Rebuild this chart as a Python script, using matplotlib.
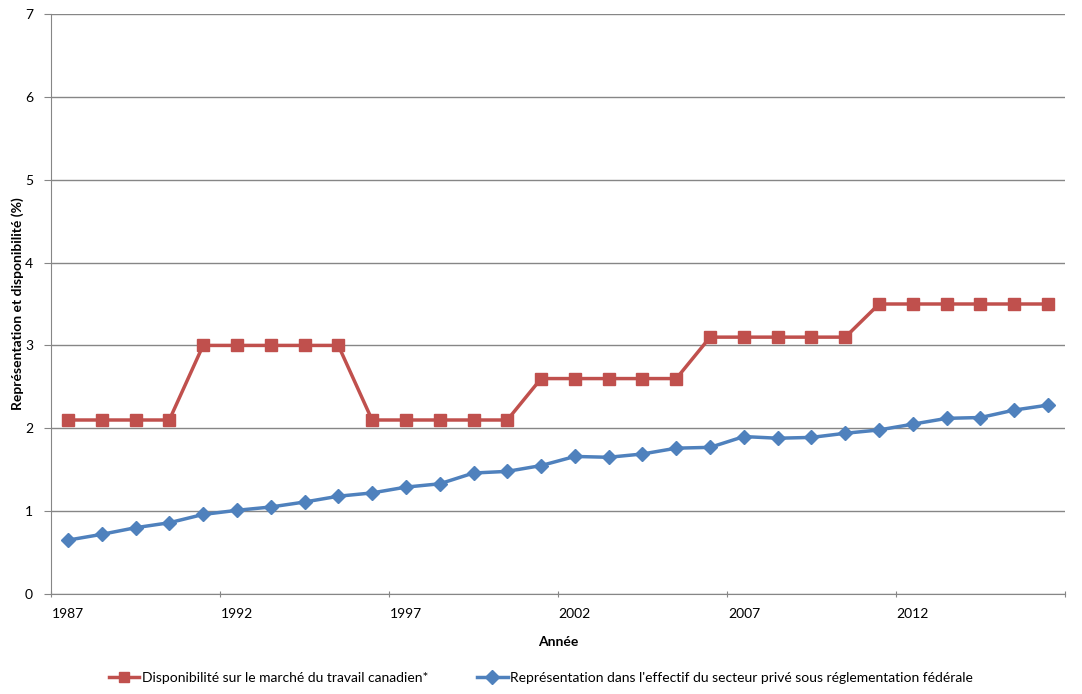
import matplotlib
matplotlib.use("Agg")
import matplotlib.pyplot as plt
import numpy as np

years = list(range(1987, 2017))
disponibilite = [2.1, 2.1, 2.1, 2.1, 3.0, 3.0, 3.0, 3.0, 3.0, 2.1,
                 2.1, 2.1, 2.1, 2.1, 2.6, 2.6, 2.6, 2.6, 2.6, 3.1,
                 3.1, 3.1, 3.1, 3.1, 3.5, 3.5, 3.5, 3.5, 3.5, 3.5]
representation = [0.65, 0.72, 0.80, 0.86, 0.96, 1.01, 1.05, 1.11, 1.18, 1.22,
                   1.29, 1.33, 1.46, 1.48, 1.55, 1.66, 1.65, 1.69, 1.76, 1.77,
                   1.90, 1.88, 1.89, 1.94, 1.98, 2.05, 2.12, 2.13, 2.22, 2.28]
label_red = "Disponibilité sur le marché du travail canadien*"
label_blue = "Représentation dans l'effectif du secteur privé sous réglementation fédérale"

plt.rcParams['font.family'] = ['Lato', 'DejaVu Sans']
fig = plt.figure(figsize=(10.82, 6.94), dpi=100)
ax = fig.add_axes([51/1082, 1-594/694, (1065-51)/1082, (594-14)/694])

x = np.arange(len(years))
ax.plot(x, disponibilite, color='#C0504D', lw=2.5, marker='s', ms=9, label=label_red, zorder=3)
ax.plot(x, representation, color='#4F81BD', lw=2.5, marker='D', ms=7, label=label_blue, zorder=3)

ax.set_xlim(-0.5, len(years) - 0.5)
ax.set_ylim(0, 7)
ax.set_yticks(range(0, 8))
ax.yaxis.grid(True, color='#868686', lw=1)
ax.set_axisbelow(True)

ax.set_xticks(np.arange(-0.5, len(years), 5))
ax.set_xticklabels([])
ax.set_xticks(np.arange(0, len(years), 5), minor=True)
ax.set_xticklabels([str(years[i]) for i in range(0, len(years), 5)], minor=True)
ax.tick_params(axis='x', which='minor', length=0, pad=10, labelsize=10)
ax.tick_params(axis='x', which='major', length=5, color='#868686', direction='inout')
ax.tick_params(axis='y', length=5, color='#868686', labelsize=10, pad=8)

for s in ['top', 'right']:
    ax.spines[s].set_visible(False)
for s in ['left', 'bottom']:
    ax.spines[s].set_color('#868686')

ax.set_xlabel("Année", fontweight='bold', fontsize=10)
ax.xaxis.set_label_coords(0.5, -(636-594)/580, transform=ax.transAxes)
ax.set_ylabel("Représentation et disponibilité (%)", fontweight='bold', fontsize=10)
ax.yaxis.set_label_coords(-(51-24)/1014, 0.5)

leg = fig.legend(loc='center', bbox_to_anchor=(0.5, 1-678/694), ncol=2, frameon=False,
                 fontsize=10, handlelength=2.2, columnspacing=3.5, handletextpad=0.2)
for h in leg.legend_handles:
    h.set_markersize(7)

fig.savefig("out.png", dpi=100)
